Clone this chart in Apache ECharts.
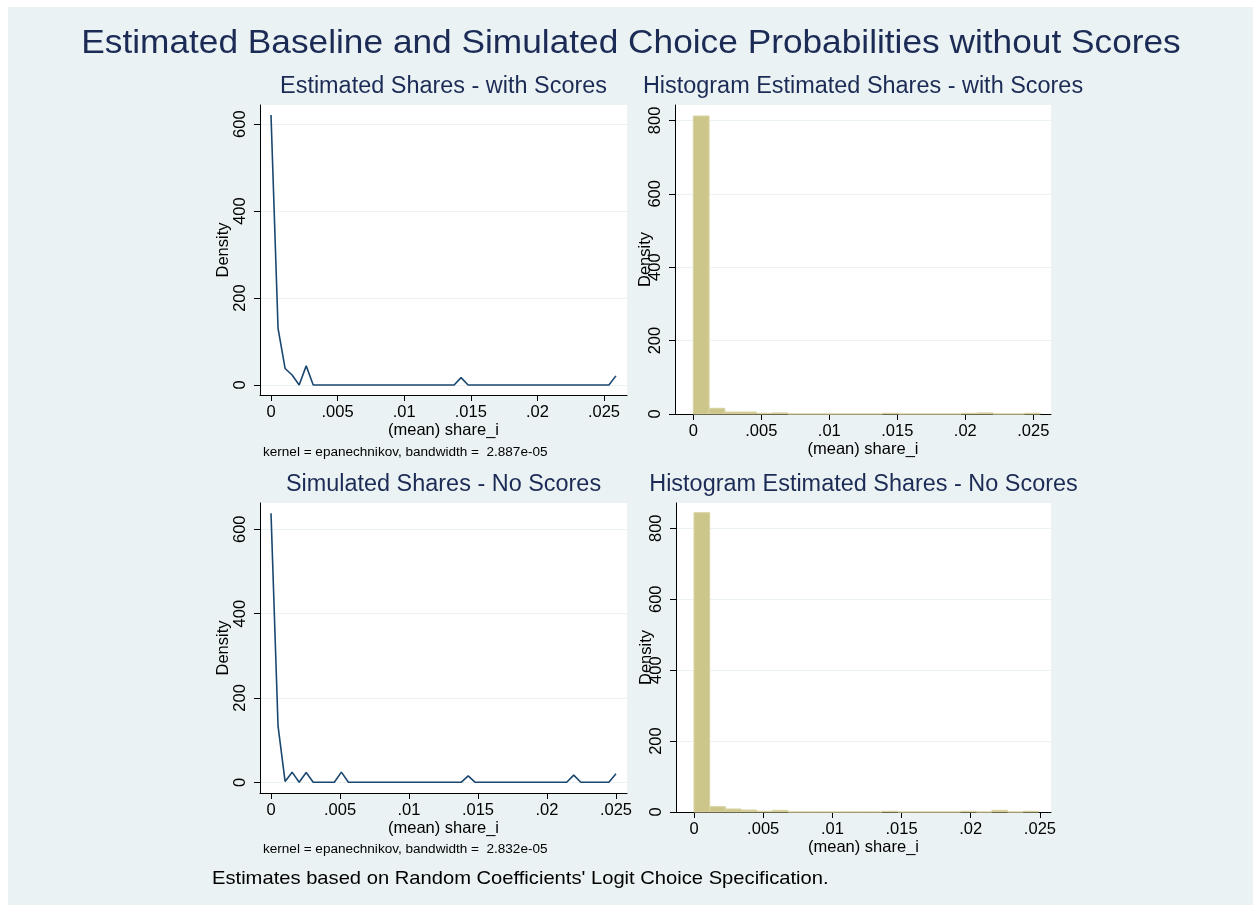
<!DOCTYPE html>
<html>
<head>
    <meta charset="UTF-8">
    <title>Estimated Baseline and Simulated Choice Probabilities without Scores</title>
    <script src="https://cdn.jsdelivr.net/npm/echarts/dist/echarts.min.js"></script>
    <style>
        html, body { margin: 0; padding: 0; background: #fff; }
        #main { width: 1253px; height: 909px; }
    </style>
</head>
<body>
    <div id="main"></div>
    <script type="text/javascript">
        // kernel density, estimated shares with scores (x = share, y = density)
        var kdeWithX = [0, 0.000529, 0.001057, 0.001586, 0.002114, 0.002643, 0.003171, 0.01375, 0.01427, 0.0148, 0.02537, 0.0259];
        var kdeWithY = [621, 130, 38, 23, 0, 44, 0, 0, 17, 0, 0, 21];

        // kernel density, simulated shares without scores
        var kdeNoX = [0, 0.00051, 0.00102, 0.00153, 0.00204, 0.00255, 0.00306, 0.00459, 0.0051, 0.00561, 0.01378, 0.01429, 0.0148, 0.02143, 0.02194, 0.02245, 0.02449, 0.025];
        var kdeNoY = [638, 133, 2, 24, 0, 23, 0, 0, 24, 0, 0, 15, 0, 0, 17, 0, 0, 20];

        // histograms: 22 bins starting at 0
        var histWithWidth = 0.00116;
        var histWithHeights = [812, 15.5, 5.4, 5.4, 2, 3, 0, 0, 0, 0, 0, 0, 2, 0, 0, 0, 0, 2, 3, 0, 0, 2];
        var histNoWidth = 0.001133;
        var histNoHeights = [844, 15, 8.5, 5.6, 2, 4.7, 0, 0, 0, 0, 0, 0, 2, 0, 0, 0, 0, 2, 0, 4.7, 0, 2];

        var xTicks = [0, 0.005, 0.01, 0.015, 0.02, 0.025];
        var yTicksKde = [0, 200, 400, 600];
        var yTicksHist = [0, 200, 400, 600, 800];

        var font = "'Liberation Sans', Arial, sans-serif";
        var navy = '#1c2b55';

        function pairs(xs, ys) {
            return xs.map(function (x, i) { return [x, ys[i]]; });
        }
        function bins(width, heights) {
            return heights.map(function (h, i) { return [i * width, (i + 1) * width, h]; });
        }
        function fmtShare(v) {
            return v === 0 ? '0' : String(+v.toFixed(4)).replace(/^0/, '');
        }

        function xAxisFor(idx, min, max) {
            return {
                type: 'value', gridIndex: idx, min: min, max: max,
                name: '(mean) share_i', nameLocation: 'middle', nameGap: 26.5, nameMoveOverlap: false,
                nameTextStyle: { fontFamily: font, fontSize: 16.5, color: '#000' },
                axisLine: { show: true, onZero: false, lineStyle: { color: '#000', width: 1 } },
                axisTick: { show: true, length: 6, customValues: xTicks, lineStyle: { color: '#000' } },
                axisLabel: { customValues: xTicks, margin: 9, fontFamily: font, fontSize: 16.5, color: '#000', formatter: fmtShare },
                splitLine: { show: false }
            };
        }
        function yAxisFor(idx, min, max, ticks, gap) {
            return {
                type: 'value', gridIndex: idx, min: min, max: max,
                name: 'Density', nameLocation: 'middle', nameGap: gap, nameMoveOverlap: false,
                nameTextStyle: { fontFamily: font, fontSize: 16.5, color: '#000' },
                axisLine: { show: true, onZero: false, lineStyle: { color: '#000', width: 1 } },
                axisTick: { show: true, length: 6, customValues: ticks, lineStyle: { color: '#000' } },
                axisLabel: { customValues: ticks, rotate: 90, margin: 11, fontFamily: font, fontSize: 16.5, color: '#000' },
                splitLine: { show: true, lineStyle: { color: '#eaf2f3', width: 1 } }
            };
        }

        function renderBar(params, api) {
            var p0 = api.coord([api.value(0), api.value(2)]);
            var p1 = api.coord([api.value(1), 0]);
            return {
                type: 'rect',
                shape: { x: p0[0], y: p0[1], width: p1[0] - p0[0], height: p1[1] - p0[1] },
                style: { fill: '#cdc68a', stroke: '#d8d2a2', lineWidth: 1 }
            };
        }

        function text(str, x, y, size, color, align, sx) {
            return {
                type: 'text', x: x, y: y, z: 50, scaleX: sx || 1,
                style: { text: str, fontFamily: font, fontSize: size, fill: color, textAlign: align || 'center', textVerticalAlign: 'middle' }
            };
        }

        var chart = echarts.init(document.getElementById('main'));
        var option = {
            backgroundColor: '#eaf2f3',
            animation: false,
            graphic: [
                { type: 'rect', z: 100, shape: { x: 0, y: 0, width: 8, height: 909 }, style: { fill: '#fff' } },
                { type: 'rect', z: 100, shape: { x: 0, y: 0, width: 1253, height: 7 }, style: { fill: '#fff' } },
                { type: 'rect', z: 100, shape: { x: 0, y: 905, width: 1253, height: 4 }, style: { fill: '#fff' } },
                text('Estimated Baseline and Simulated Choice Probabilities without Scores', 631, 44, 34, navy, 'center', 1.037),
                text('Estimated Shares - with Scores', 443.5, 87, 23, navy, 'center', 1.019),
                text('Histogram Estimated Shares - with Scores', 863, 87, 23, navy, 'center', 1.019),
                text('Simulated Shares - No Scores', 443.5, 485, 23, navy, 'center', 1.019),
                text('Histogram Estimated Shares - No Scores', 863.5, 485, 23, navy, 'center', 1.019),
                text('kernel = epanechnikov, bandwidth =  2.887e-05', 263, 452.5, 12.5, '#000', 'left', 1.084),
                text('kernel = epanechnikov, bandwidth =  2.832e-05', 263, 849.5, 12.5, '#000', 'left', 1.084),
                text("Estimates based on Random Coefficients' Logit Choice Specification.", 212, 879, 18.5, '#000', 'left', 1.09)
            ],
            grid: [
                { left: 260, top: 105, width: 367, height: 290, show: true, backgroundColor: '#fff', borderWidth: 0 },
                { left: 675, top: 105, width: 376, height: 309, show: true, backgroundColor: '#fff', borderWidth: 0 },
                { left: 260, top: 503, width: 367, height: 290, show: true, backgroundColor: '#fff', borderWidth: 0 },
                { left: 676, top: 503, width: 375, height: 309, show: true, backgroundColor: '#fff', borderWidth: 0 }
            ],
            xAxis: [
                xAxisFor(0, -0.000826, 0.02673),
                xAxisFor(1, -0.001346, 0.0263),
                xAxisFor(2, -0.000798, 0.0258),
                xAxisFor(3, -0.0013, 0.0258)
            ],
            yAxis: [
                yAxisFor(0, -23, 644, yTicksKde, 28.5),
                yAxisFor(1, 0, 842, yTicksHist, 21.5),
                yAxisFor(2, -25.4, 662.3, yTicksKde, 28.5),
                yAxisFor(3, 0, 871.3, yTicksHist, 21.5)
            ],
            series: [
                {
                    type: 'line', xAxisIndex: 0, yAxisIndex: 0, data: pairs(kdeWithX, kdeWithY),
                    showSymbol: false, lineStyle: { color: '#1a476f', width: 1.6 }
                },
                {
                    type: 'custom', xAxisIndex: 1, yAxisIndex: 1, data: bins(histWithWidth, histWithHeights),
                    renderItem: renderBar
                },
                {
                    type: 'line', xAxisIndex: 2, yAxisIndex: 2, data: pairs(kdeNoX, kdeNoY),
                    showSymbol: false, lineStyle: { color: '#1a476f', width: 1.6 }
                },
                {
                    type: 'custom', xAxisIndex: 3, yAxisIndex: 3, data: bins(histNoWidth, histNoHeights),
                    renderItem: renderBar
                }
            ]
        };
        chart.setOption(option);
    </script>
</body>
</html>
